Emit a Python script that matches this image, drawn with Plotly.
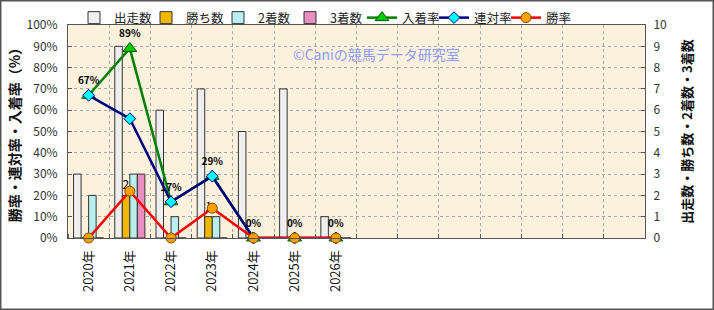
import plotly.graph_objects as go

years = ['2020年', '2021年', '2022年', '2023年', '2024年', '2025年', '2026年']
n_slots = 14
starts = [3, 9, 6, 7, 5, 7, 1]      # 出走数
wins = [0, 2, 0, 1, 0, 0, 0]        # 勝ち数
seconds = [2, 3, 1, 1, 0, 0, 0]     # 2着数
thirds = [0, 3, 0, 0, 0, 0, 0]      # 3着数
place_rate = [0.67, 0.89, 0.17, 0.29, 0.0, 0.0, 0.0]   # 入着率
rentai_rate = [0.67, 0.56, 0.17, 0.29, 0.0, 0.0, 0.0]  # 連対率
win_rate = [0.0, 0.22, 0.0, 0.14, 0.0, 0.0, 0.0]       # 勝率
place_labels = ['67%', '89%', '17%', '29%', '0%', '0%', '0%']

x = list(range(len(years)))
FONT = "Noto Sans CJK JP"
W, H = 714, 310
L, R, T, B = 68, 69, 25, 72
pw, ph = W - L - R, H - T - B

fig = go.Figure()
bar_line = dict(color='#333333', width=1)
fig.add_trace(go.Bar(x=x, y=starts, name='出走数', marker=dict(color='#EEEEEE', line=bar_line), yaxis='y'))
fig.add_trace(go.Bar(x=x, y=wins, name='勝ち数', marker=dict(color='#F2B800', line=bar_line), yaxis='y',
                     text=[str(v) if v else '' for v in wins], textposition='outside',
                     textfont=dict(size=12, color='#000000', family=FONT), cliponaxis=False))
fig.add_trace(go.Bar(x=x, y=seconds, name='2着数', marker=dict(color='#B8EEEE', line=bar_line), yaxis='y'))
fig.add_trace(go.Bar(x=x, y=thirds, name='3着数', marker=dict(color='#E88FC0', line=bar_line), yaxis='y'))

fig.add_trace(go.Scatter(x=x, y=place_rate, name='入着率', yaxis='y2', mode='lines+markers+text',
                         line=dict(color='#008000', width=2.5),
                         marker=dict(symbol='triangle-up', size=12, color='#00CC00', line=dict(color='#005500', width=1)),
                         text=place_labels, textposition='top center',
                         textfont=dict(size=10, color='#000000', family=FONT, weight='bold'), cliponaxis=False))
fig.add_trace(go.Scatter(x=x, y=rentai_rate, name='連対率', yaxis='y2', mode='lines+markers',
                         line=dict(color='#000080', width=2.5),
                         marker=dict(symbol='diamond', size=9, color='#00FFFF', line=dict(color='#000080', width=1)),
                         cliponaxis=False))
fig.add_trace(go.Scatter(x=x, y=win_rate, name='勝率', yaxis='y2', mode='lines+markers',
                         line=dict(color='#FF0000', width=2.5),
                         marker=dict(symbol='circle', size=10, color='#FFA000', line=dict(color='#7A4A00', width=1)),
                         cliponaxis=False))

def px(xp):
    return (xp - L) / pw

def py(yp):
    return (H - B - yp) / ph

fig.update_layout(
    width=W, height=H,
    margin=dict(l=L, r=R, t=T, b=B, autoexpand=False),
    paper_bgcolor='#FFFFFF', plot_bgcolor='#FBF1DD',
    font=dict(family=FONT, size=12, color='#222222'),
    barmode='group', bargap=0.27, bargroupgap=0.0,
    showlegend=True,
    legend=dict(orientation='h', x=px(74), xanchor='left', y=py(3), yanchor='top',
                font=dict(size=12.5, color='#222222', family=FONT), bgcolor='rgba(0,0,0,0)',
                entrywidth=27, entrywidthmode='pixels', traceorder='normal'),
    xaxis=dict(range=[-0.5, n_slots - 0.5], tickmode='array', tickvals=x, ticktext=years,
               tickangle=-90, tickfont=dict(size=13, color='#111111'), showgrid=False,
               ticks='', ticklabelstandoff=6,
               showline=True, linecolor='#555555', linewidth=1, mirror=True,
               minor=dict(tick0=-0.5, dtick=1, showgrid=True, gridcolor='#A8A8A8', griddash='dot',
                          gridwidth=1, ticks='inside', ticklen=4, tickcolor='#555555'),
               zeroline=False, automargin=False),
    yaxis=dict(side='right', range=[0, 10], dtick=1, tick0=0, showgrid=True, gridcolor='#A8A8A8',
               griddash='dot', gridwidth=1, ticks='inside', ticklen=4, tickcolor='#555555',
               tickfont=dict(size=12, color='#333333'), ticklabelstandoff=5,
               showline=True, linecolor='#555555', linewidth=1,
               title=dict(text='出走数・勝ち数・2着数・3着数', font=dict(size=13, color='#111111', weight='bold'),
                          standoff=16),
               zeroline=False, automargin=False),
    yaxis2=dict(side='left', overlaying='y', range=[0, 1], dtick=0.1, tick0=0, tickformat='.0%',
                showgrid=False, ticks='inside', ticklen=4, tickcolor='#555555',
                tickfont=dict(size=12, color='#333333'), ticklabelstandoff=7,
                showline=True, linecolor='#555555', linewidth=1,
                title=dict(text='勝率・連対率・入着率（%）', font=dict(size=14, color='#111111', weight='bold'),
                           standoff=2),
                zeroline=False, automargin=False),
    annotations=[dict(text='©Caniの競馬データ研究室', xref='paper', yref='paper', x=px(376), y=py(42),
                      showarrow=False, font=dict(size=14, color='#8C9CF8', family=FONT))],
    shapes=[dict(type='rect', xref='paper', yref='paper', x0=px(0.75), x1=px(713.25), y0=py(309.25), y1=py(0.75),
                 line=dict(color='#555555', width=1.5), fillcolor='rgba(0,0,0,0)', layer='above')],
)

fig.write_html("out.html")
